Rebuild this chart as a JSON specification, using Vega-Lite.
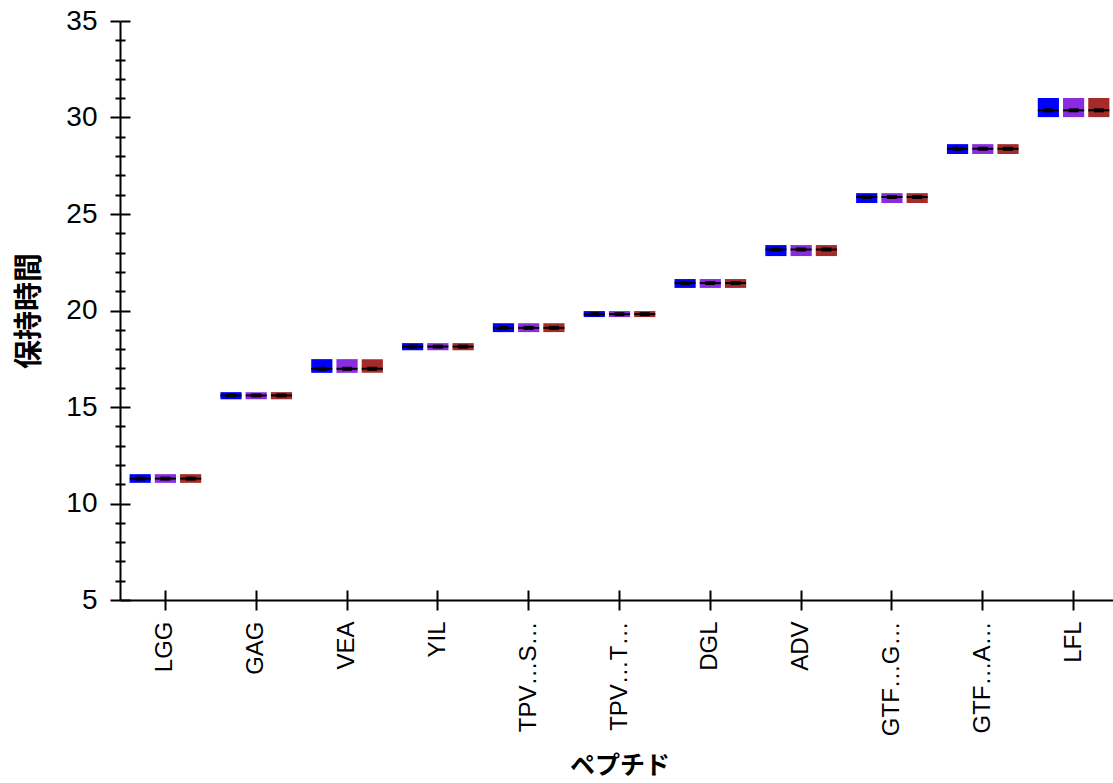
{
  "$schema": "https://vega.github.io/schema/vega-lite/v6.json",
  "width": 999,
  "height": 579,
  "autosize": {"type": "none"},
  "padding": {"left": 120, "top": 21, "right": 0, "bottom": 183},
  "config": {
    "view": {"stroke": null},
    "font": "Liberation Sans",
    "axis": {"domainColor": "black", "tickColor": "black", "labelColor": "black", "titleColor": "black", "grid": false, "domainWidth": 2, "tickWidth": 2}
  },
  "data": {
    "values": [
      {"peptide": "LGG", "group": "1", "lo": 11.07, "hi": 11.52, "med": 11.29},
      {"peptide": "LGG", "group": "2", "lo": 11.07, "hi": 11.52, "med": 11.29},
      {"peptide": "LGG", "group": "3", "lo": 11.07, "hi": 11.52, "med": 11.29},
      {"peptide": "GAG", "group": "1", "lo": 15.40, "hi": 15.77, "med": 15.60},
      {"peptide": "GAG", "group": "2", "lo": 15.40, "hi": 15.77, "med": 15.60},
      {"peptide": "GAG", "group": "3", "lo": 15.40, "hi": 15.77, "med": 15.60},
      {"peptide": "VEA", "group": "1", "lo": 16.77, "hi": 17.48, "med": 16.98},
      {"peptide": "VEA", "group": "2", "lo": 16.77, "hi": 17.48, "med": 16.98},
      {"peptide": "VEA", "group": "3", "lo": 16.77, "hi": 17.48, "med": 16.98},
      {"peptide": "YIL", "group": "1", "lo": 17.94, "hi": 18.31, "med": 18.13},
      {"peptide": "YIL", "group": "2", "lo": 17.94, "hi": 18.31, "med": 18.13},
      {"peptide": "YIL", "group": "3", "lo": 17.94, "hi": 18.31, "med": 18.13},
      {"peptide": "TPV…S…", "group": "1", "lo": 18.88, "hi": 19.34, "med": 19.10},
      {"peptide": "TPV…S…", "group": "2", "lo": 18.88, "hi": 19.34, "med": 19.10},
      {"peptide": "TPV…S…", "group": "3", "lo": 18.88, "hi": 19.34, "med": 19.10},
      {"peptide": "TPV…T…", "group": "1", "lo": 19.66, "hi": 19.97, "med": 19.81},
      {"peptide": "TPV…T…", "group": "2", "lo": 19.66, "hi": 19.97, "med": 19.81},
      {"peptide": "TPV…T…", "group": "3", "lo": 19.66, "hi": 19.97, "med": 19.81},
      {"peptide": "DGL", "group": "1", "lo": 21.17, "hi": 21.63, "med": 21.42},
      {"peptide": "DGL", "group": "2", "lo": 21.17, "hi": 21.63, "med": 21.42},
      {"peptide": "DGL", "group": "3", "lo": 21.17, "hi": 21.63, "med": 21.42},
      {"peptide": "ADV", "group": "1", "lo": 22.82, "hi": 23.39, "med": 23.16},
      {"peptide": "ADV", "group": "2", "lo": 22.82, "hi": 23.39, "med": 23.16},
      {"peptide": "ADV", "group": "3", "lo": 22.82, "hi": 23.39, "med": 23.16},
      {"peptide": "GTF…G…", "group": "1", "lo": 25.57, "hi": 26.08, "med": 25.88},
      {"peptide": "GTF…G…", "group": "2", "lo": 25.57, "hi": 26.08, "med": 25.88},
      {"peptide": "GTF…G…", "group": "3", "lo": 25.57, "hi": 26.08, "med": 25.88},
      {"peptide": "GTF…A…", "group": "1", "lo": 28.11, "hi": 28.62, "med": 28.38},
      {"peptide": "GTF…A…", "group": "2", "lo": 28.11, "hi": 28.62, "med": 28.38},
      {"peptide": "GTF…A…", "group": "3", "lo": 28.11, "hi": 28.62, "med": 28.38},
      {"peptide": "LFL", "group": "1", "lo": 30.02, "hi": 31.01, "med": 30.37},
      {"peptide": "LFL", "group": "2", "lo": 30.02, "hi": 31.01, "med": 30.37},
      {"peptide": "LFL", "group": "3", "lo": 30.02, "hi": 31.01, "med": 30.37}
    ]
  },
  "layer": [
    {
      "mark": {"type": "bar"},
      "encoding": {
        "x": {
          "field": "peptide", "type": "nominal", "sort": null,
          "scale": {"paddingInner": 0, "paddingOuter": 0},
          "axis": {
            "orient": "bottom", "title": "ペプチド", "titleFont": "Noto Sans CJK JP", "titleFontSize": 25, "titleFontWeight": "bold",
            "titlePadding": 18, "labelAngle": -90, "labelFontSize": 24, "labelPadding": 11, "tickSize": 10
          }
        },
        "xOffset": {"field": "group", "type": "nominal", "scale": {"paddingInner": 0.16, "paddingOuter": 0.38}},
        "y": {
          "field": "lo", "type": "quantitative",
          "scale": {"domain": [5, 35], "nice": false, "zero": false},
          "axis": {
            "orient": "left", "title": "保持時間", "titleFont": "Noto Sans CJK JP", "titleFontSize": 29, "titleFontWeight": "bold",
            "titlePadding": 21, "labelFontSize": 28, "labelPadding": 13,
            "values": [5,6,7,8,9,10,11,12,13,14,15,16,17,18,19,20,21,22,23,24,25,26,27,28,29,30,31,32,33,34,35],
            "labelExpr": "datum.value % 5 === 0 ? datum.label : ''",
            "tickSize": {"condition": {"test": "datum.value % 5 === 0", "value": 10}, "value": 5}
          }
        },
        "y2": {"field": "hi"},
        "color": {"field": "group", "type": "nominal", "scale": {"range": ["#0000ff", "#8a2be2", "#a52a2a"]}, "legend": null}
      }
    },
    {
      "mark": {"type": "tick", "color": "black", "size": 21, "thickness": 2, "opacity": 1},
      "encoding": {
        "x": {
          "field": "peptide", "type": "nominal", "sort": null,
          "axis": {"orient": "bottom", "title": null, "labels": false, "domain": false, "tickSize": -10}
        },
        "xOffset": {"field": "group", "type": "nominal"},
        "y": {
          "field": "med", "type": "quantitative",
          "axis": {
            "orient": "left", "title": null, "labels": false, "domain": false,
            "values": [5,6,7,8,9,10,11,12,13,14,15,16,17,18,19,20,21,22,23,24,25,26,27,28,29,30,31,32,33,34,35],
            "tickSize": {"condition": {"test": "datum.value % 5 === 0", "value": -10}, "value": -5}
          }
        }
      }
    },
    {
      "mark": {"type": "tick", "color": "black", "size": 10, "thickness": 4, "opacity": 1},
      "encoding": {
        "x": {"field": "peptide", "type": "nominal", "sort": null, "axis": null},
        "xOffset": {"field": "group", "type": "nominal"},
        "y": {"field": "med", "type": "quantitative", "axis": null}
      }
    }
  ],
  "resolve": {"axis": {"x": "independent", "y": "independent"}}
}
